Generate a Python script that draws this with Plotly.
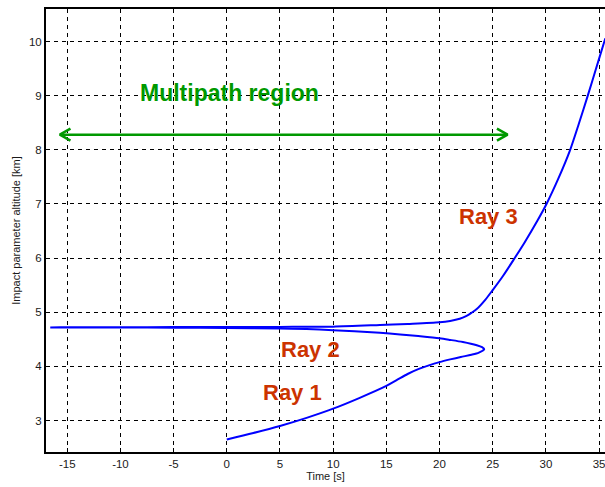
import plotly.graph_objects as go

# Impact-parameter trajectory: Ray 1 rises to the fold, Ray 2 returns left,
# Ray 3 continues right and climbs out of the multipath zone.
ray1_t = [0, 2.5, 5, 7.5, 10, 12.5, 15, 16, 17, 18, 19, 20, 21, 22, 23, 23.7, 24.2]
ray1_h = [2.65, 2.77, 2.90, 3.05, 3.22, 3.42, 3.64, 3.75, 3.86, 3.95, 4.02, 4.08, 4.13, 4.175, 4.215, 4.255, 4.32]

ray2_t = [24.0, 23.5, 22.2, 21.0, 20.0, 18.0, 16.3, 14.4, 12.0, 10.0, 7.5, 5.0, 0.0, -5.0, -10.0, -15.0, -16.6]
ray2_h = [4.355, 4.39, 4.45, 4.49, 4.52, 4.56, 4.59, 4.62, 4.65, 4.67, 4.69, 4.70, 4.71, 4.715, 4.718, 4.72, 4.72]

ray3_t = [-15.0, -10.0, -5.0, 0.0, 5.0, 10.0, 14.4, 17.0, 20.0, 21.0, 21.9, 22.5, 23.0, 23.5, 24.3,
          25.0, 26.0, 27.0, 28.0, 29.2, 30.06, 31.2, 32.25, 33.1, 33.94, 34.72, 35.5, 35.6]
ray3_h = [4.725, 4.725, 4.726, 4.728, 4.73, 4.735, 4.765, 4.785, 4.815, 4.84, 4.88, 4.93, 4.99, 5.06, 5.23,
          5.41, 5.68, 5.98, 6.29, 6.69, 7.00, 7.48, 7.98, 8.48, 9.00, 9.50, 10.00, 10.06]

# Multipath region extent (double-headed arrow)
arrow_t = [-15.7, 26.4]
arrow_h = 8.28

# Text labels: (text, t, h)
ray_labels = [("Ray 1", 6.2, 3.52), ("Ray 2", 7.9, 4.31), ("Ray 3", 24.6, 6.77)]
region_label = ("Multipath region", 0.3, 9.05)

x_ticks = [-15, -10, -5, 0, 5, 10, 15, 20, 25, 30, 35]
x_ticktext = ["-15", "-10", "-5", "0", "5", "10", "15", "20", "25", "30", "35"]
y_ticks = [3, 4, 5, 6, 7, 8, 9, 10]

BLUE = "#0000FF"
GREEN = "#009900"
RED = "#CC3300"
FONT = "Liberation Sans, Arial, Helvetica, sans-serif"
INK = "#1a1a1a"

fig = go.Figure()

curve_t = ray1_t + ray2_t + ray3_t
curve_h = ray1_h + ray2_h + ray3_h
fig.add_trace(go.Scatter(x=curve_t, y=curve_h, mode="lines",
                         line=dict(color=BLUE, width=2, shape="spline", smoothing=0.8),
                         hoverinfo="skip", showlegend=False))

# Arrow shaft
fig.add_trace(go.Scatter(x=arrow_t, y=[arrow_h, arrow_h], mode="lines",
                         line=dict(color=GREEN, width=2.5), showlegend=False, hoverinfo="skip"))
# Open chevron heads at both ends
head_dt, head_dh = 1.0, 0.11
left, right = arrow_t
fig.add_trace(go.Scatter(x=[left + head_dt, left, left + head_dt],
                         y=[arrow_h + head_dh, arrow_h, arrow_h - head_dh],
                         mode="lines", line=dict(color=GREEN, width=2.5),
                         showlegend=False, hoverinfo="skip"))
fig.add_trace(go.Scatter(x=[right - head_dt, right, right - head_dt],
                         y=[arrow_h + head_dh, arrow_h, arrow_h - head_dh],
                         mode="lines", line=dict(color=GREEN, width=2.5),
                         showlegend=False, hoverinfo="skip"))

text, tx, ty = region_label
fig.add_annotation(x=tx, y=ty, text="<b>%s</b>" % text, showarrow=False,
                   font=dict(family=FONT, size=23, color=GREEN))
for text, tx, ty in ray_labels:
    fig.add_annotation(x=tx, y=ty, text="<b>%s</b>" % text, showarrow=False,
                       font=dict(family=FONT, size=22, color=RED))

grid = dict(showgrid=True, gridcolor="black", gridwidth=1, griddash="4px,4px")

fig.update_xaxes(range=[-17.0, 35.56], tickvals=x_ticks, ticktext=x_ticktext,
                 ticks="inside", ticklen=4, ticklabeloverflow="allow",
                 tickcolor="black", showline=True, linecolor="black", linewidth=2,
                 mirror=True, zeroline=False,
                 title=dict(text="Time [s]", font=dict(family=FONT, size=11, color=INK), standoff=4),
                 tickfont=dict(family=FONT, size=11.5, color=INK), **grid)
fig.update_yaxes(range=[2.42, 10.6], tickvals=y_ticks, ticks="inside", ticklen=4,
                 tickcolor="black", showline=True, linecolor="black", linewidth=2,
                 zeroline=False,
                 title=dict(text="Impact parameter altitude [km]",
                            font=dict(family=FONT, size=11, color=INK), standoff=6),
                 tickfont=dict(family=FONT, size=11.5, color=INK), **grid)

fig.update_layout(width=605, height=487, margin=dict(l=46, r=0, t=9, b=35),
                  paper_bgcolor="white", plot_bgcolor="white", showlegend=False)

fig.write_html("out.html")
